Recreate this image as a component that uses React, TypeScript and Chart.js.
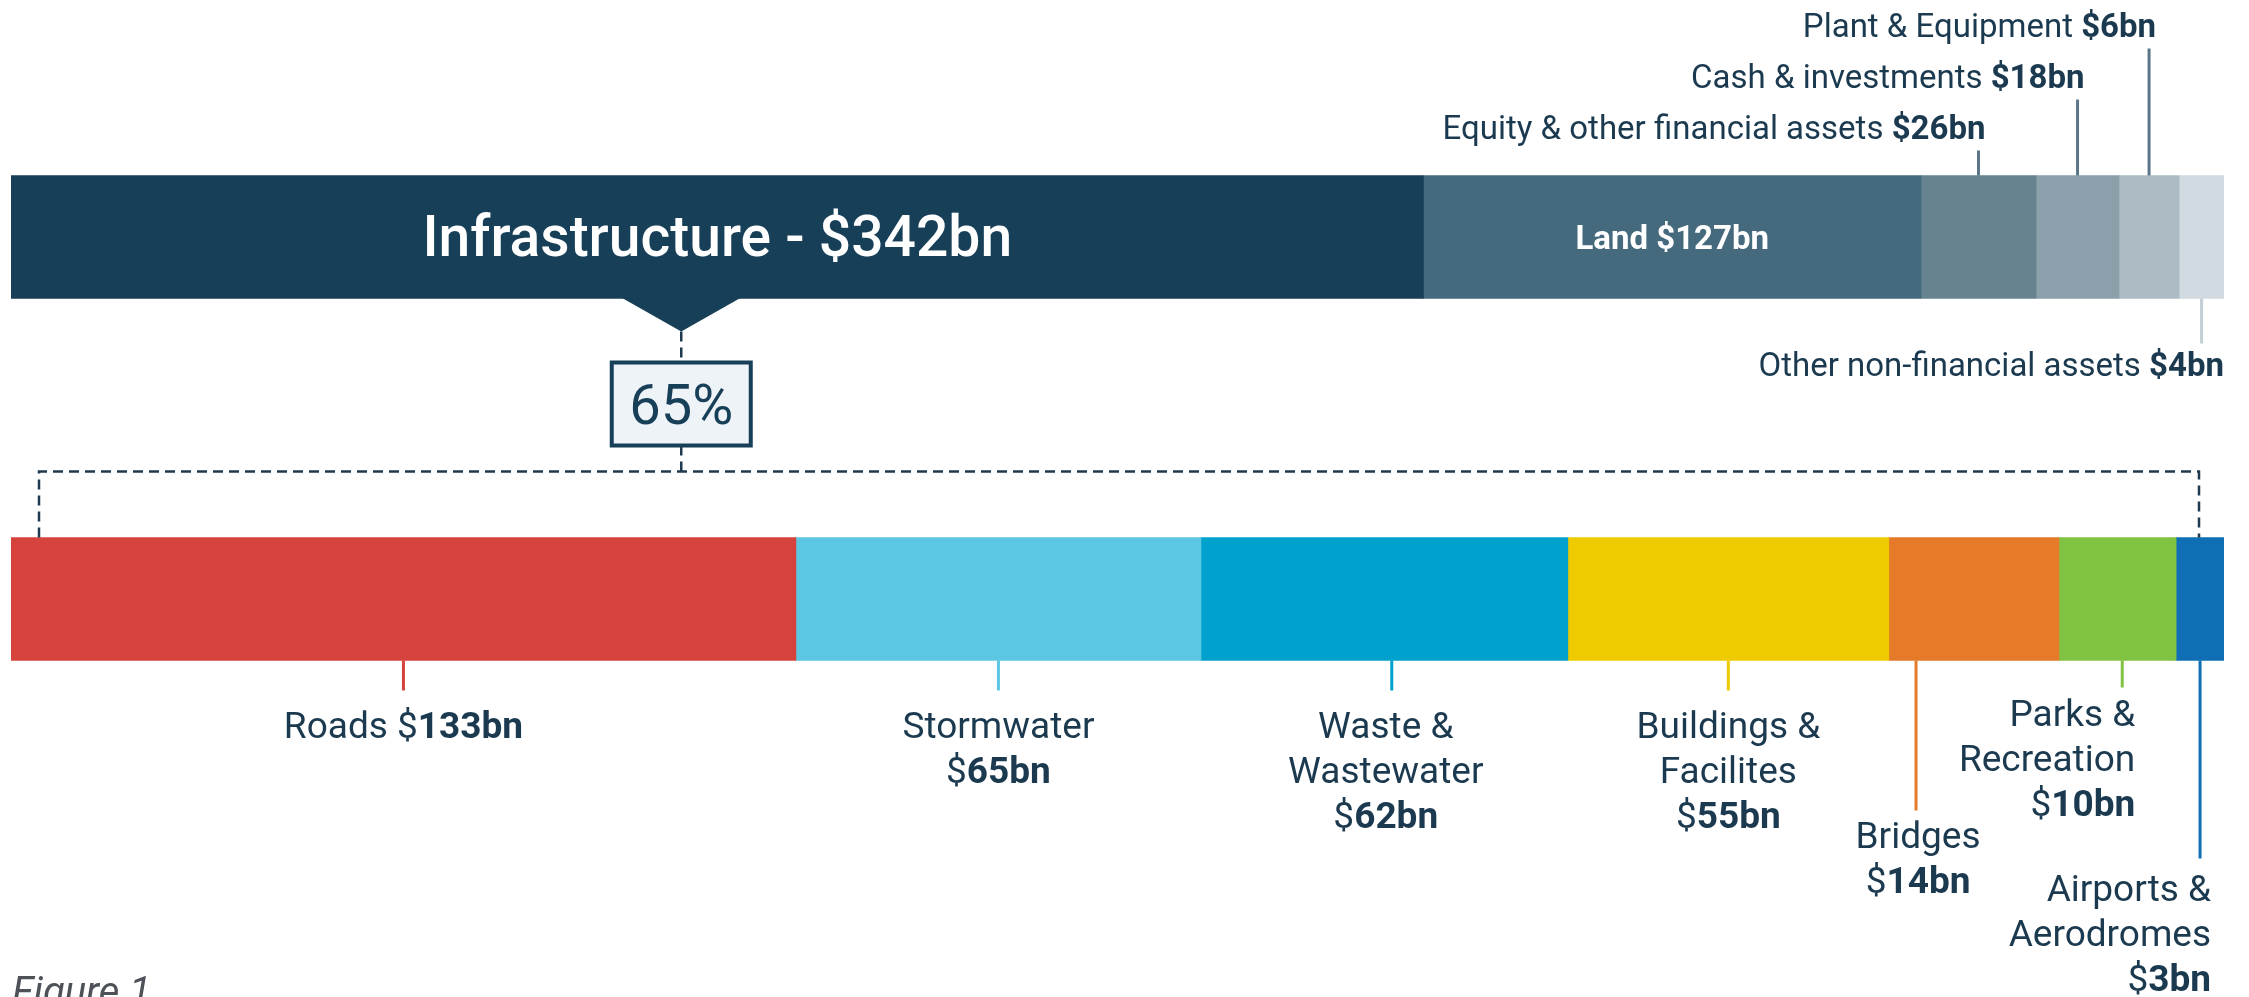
import React, { useEffect, useRef } from "react";
import { Chart, registerables } from "chart.js";

Chart.register(...registerables);

// ---- Data -------------------------------------------------------------
const rowLabels = ["Total assets", "Infrastructure"];

// Total assets breakdown ($bn, as labelled)
const assetCategories = [
  "Infrastructure",
  "Land",
  "Equity & other financial assets",
  "Cash & investments",
  "Plant & Equipment",
  "Other non-financial assets",
];
const assetValues = [342, 127, 26, 18, 6, 4];
// Segment lengths as drawn in the figure (the figure is not to scale for small items)
const assetDrawn = [333.7, 117.5, 27.2, 19.6, 14.2, 10.6];
const assetColors = ["#173f57", "#45697d", "#66838f", "#8ba0ab", "#adbcc4", "#d0dae0"];

// Infrastructure breakdown ($bn, as labelled)
const infraCategories = [
  "Roads",
  "Stormwater",
  "Waste & Wastewater",
  "Buildings & Facilites",
  "Bridges",
  "Parks & Recreation",
  "Airports & Aerodromes",
];
const infraValues = [133, 65, 62, 55, 14, 10, 3];
const infraDrawn = [121.3, 62.6, 56.7, 49.6, 26.3, 18.1, 7.4];
const infraLabelLines = [
  ["Roads"],
  ["Stormwater"],
  ["Waste &", "Wastewater"],
  ["Buildings &", "Facilites"],
  ["Bridges"],
  ["Parks &", "Recreation"],
  ["Airports &", "Aerodromes"],
];
const infraColors = ["#d6433c", "#5bc7e3", "#00a1cc", "#edcb00", "#e57a28", "#80c342", "#0f6eb4"];

const figureCaption = "Figure 1";

// ---- Styles -----------------------------------------------------------
const NAVY = "#1b3a50";
const FONT_FAMILY = 'Roboto, "Noto Sans", "Liberation Sans", sans-serif';
const font = (size: number, weight = "400", style = "normal") =>
  `${style} ${weight} ${size}px ${FONT_FAMILY}`;

// callout styling for top bar small segments (index into assets)
const topCallouts: Record<number, { tier?: number; below?: boolean }> = {
  2: { tier: 0 },
  3: { tier: 1 },
  4: { tier: 2 },
  5: { below: true },
};
// callout styling for bottom bar segments
const bottomCallouts = [
  { leader: 30, anchor: 0.5, align: "center", dx: 0, first: 77, inline: true },
  { leader: 30, anchor: 0.5, align: "center", dx: 0, first: 77 },
  { leader: 30, anchor: 0.52, align: "center", dx: -6, first: 77 },
  { leader: 30, anchor: 0.5, align: "center", dx: 0, first: 77 },
  { leader: 150, anchor: 0.16, align: "center", dx: 2, first: 187 },
  { leader: 27, anchor: 0.54, align: "right", dx: 13, first: 65 },
  { leader: 198, anchor: 0.5, align: "right", dx: 11, first: 240 },
];

type Part = { text: string; bold?: boolean };

function drawRich(
  ctx: CanvasRenderingContext2D,
  parts: Part[],
  x: number,
  y: number,
  align: string,
  size: number,
  color: string
) {
  const widths = parts.map((p) => {
    ctx.font = font(size, p.bold ? "700" : "400");
    return ctx.measureText(p.text).width;
  });
  const total = widths.reduce((a, b) => a + b, 0);
  let cx = align === "center" ? x - total / 2 : align === "right" ? x - total : x;
  ctx.textAlign = "left";
  ctx.textBaseline = "alphabetic";
  ctx.fillStyle = color;
  parts.forEach((p, i) => {
    ctx.font = font(size, p.bold ? "700" : "400");
    ctx.fillText(p.text, cx, y);
    cx += widths[i];
  });
}

function seg(chart: any, datasetIndex: number, row: number) {
  const el = chart.getDatasetMeta(datasetIndex).data[row];
  const p = el.getProps(["x", "base", "y", "height"], true);
  return {
    left: Math.min(p.x, p.base),
    right: Math.max(p.x, p.base),
    top: p.y - p.height / 2,
    bottom: p.y + p.height / 2,
    cy: p.y,
  };
}

const sum = (a: number[]) => a.reduce((s, v) => s + v, 0);

const annotationPlugin = {
  id: "figureAnnotations",
  afterDatasetsDraw(chart: any) {
    const ctx: CanvasRenderingContext2D = chart.ctx;
    ctx.save();

    // --- Top bar labels ---
    const infra = seg(chart, 0, 0);
    ctx.fillStyle = "#ffffff";
    ctx.font = font(57, "500");
    ctx.textAlign = "center";
    ctx.textBaseline = "alphabetic";
    ctx.fillText(
      `${assetCategories[0]} - $${assetValues[0]}bn`,
      (infra.left + infra.right) / 2,
      infra.cy + 19
    );

    const land = seg(chart, 1, 0);
    ctx.font = font(33, "700");
    ctx.fillText(`${assetCategories[1]} $${assetValues[1]}bn`, (land.left + land.right) / 2, land.cy + 12);

    // small segment callouts
    Object.keys(topCallouts).forEach((k) => {
      const i = Number(k);
      const cfg = topCallouts[i];
      const s = seg(chart, i, 0);
      const lx = (s.left + s.right) / 2;
      const parts: Part[] = [
        { text: `${assetCategories[i]} ` },
        { text: `$${assetValues[i]}bn`, bold: true },
      ];
      ctx.lineWidth = 3;
      if (cfg.below) {
        ctx.strokeStyle = "#c3ced5";
        ctx.beginPath();
        ctx.moveTo(lx, s.bottom);
        ctx.lineTo(lx, s.bottom + 45);
        ctx.stroke();
        drawRich(ctx, parts, s.right, s.bottom + 77, "right", 33, NAVY);
      } else {
        const baseline = s.top - 37 - (cfg.tier || 0) * 51;
        ctx.strokeStyle = "#5b7686";
        ctx.beginPath();
        ctx.moveTo(lx, baseline + 12);
        ctx.lineTo(lx, s.top);
        ctx.stroke();
        drawRich(ctx, parts, lx + 7, baseline, "right", 33, NAVY);
      }
    });

    // --- Pointer, share box and bracket ---
    const apexX = infra.left + (infra.right - infra.left) * 0.4745;
    const apexY = infra.bottom + 33;
    ctx.fillStyle = assetColors[0];
    ctx.beginPath();
    ctx.moveTo(apexX - 60, infra.bottom - 1);
    ctx.lineTo(apexX + 60, infra.bottom - 1);
    ctx.lineTo(apexX, apexY);
    ctx.closePath();
    ctx.fill();

    const roads = seg(chart, assetCategories.length, 1);
    const lastInfra = seg(chart, assetCategories.length + infraCategories.length - 1, 1);
    const boxW = 139;
    const boxH = 83;
    const boxTop = apexY + 31;
    const bracketY = boxTop + boxH + 26;
    const bx1 = roads.left + 28;
    const bx2 = lastInfra.right - 25;

    ctx.strokeStyle = "#1f3a4e";
    ctx.lineWidth = 2.5;
    ctx.setLineDash([10, 6]);
    ctx.beginPath();
    ctx.moveTo(apexX, apexY);
    ctx.lineTo(apexX, boxTop);
    ctx.moveTo(apexX, boxTop + boxH);
    ctx.lineTo(apexX, bracketY);
    ctx.moveTo(bx1, roads.top);
    ctx.lineTo(bx1, bracketY);
    ctx.lineTo(bx2, bracketY);
    ctx.lineTo(bx2, roads.top);
    ctx.stroke();
    ctx.setLineDash([]);

    ctx.fillStyle = "#eef3f8";
    ctx.fillRect(apexX - boxW / 2, boxTop, boxW, boxH);
    ctx.lineWidth = 4;
    ctx.strokeStyle = "#173f57";
    ctx.strokeRect(apexX - boxW / 2, boxTop, boxW, boxH);
    const share = Math.round((assetValues[0] / sum(assetValues)) * 100);
    ctx.fillStyle = "#173f57";
    ctx.font = font(56, "400");
    ctx.textAlign = "center";
    ctx.textBaseline = "alphabetic";
    ctx.fillText(`${share}%`, apexX, boxTop + boxH / 2 + 20);

    // --- Bottom callouts ---
    infraCategories.forEach((_, i) => {
      const cfg = bottomCallouts[i];
      const s = seg(chart, assetCategories.length + i, 1);
      const lx = s.left + (s.right - s.left) * cfg.anchor;
      ctx.strokeStyle = infraColors[i];
      ctx.lineWidth = 3;
      ctx.beginPath();
      ctx.moveTo(lx, s.bottom);
      ctx.lineTo(lx, s.bottom + cfg.leader);
      ctx.stroke();
      const tx = lx + cfg.dx;
      const valueParts: Part[] = [{ text: "$" }, { text: `${infraValues[i]}bn`, bold: true }];
      const lineH = 45;
      let y = s.bottom + cfg.first;
      if (cfg.inline) {
        drawRich(ctx, [{ text: infraLabelLines[i].join(" ") + " " }, ...valueParts], tx, y, cfg.align, 37, NAVY);
      } else {
        infraLabelLines[i].forEach((line) => {
          drawRich(ctx, [{ text: line }], tx, y, cfg.align, 37, NAVY);
          y += lineH;
        });
        drawRich(ctx, valueParts, tx, y, cfg.align, 37, NAVY);
      }
    });

    // --- Caption ---
    ctx.fillStyle = "#4c5257";
    ctx.font = font(40, "400", "italic");
    ctx.textAlign = "left";
    ctx.textBaseline = "alphabetic";
    ctx.fillText(figureCaption, 12, 1005);

    ctx.restore();
  },
};

export default function App() {
  const ref = useRef<HTMLCanvasElement>(null);

  useEffect(() => {
    const canvas = ref.current;
    if (!canvas) return;
    const datasets: any[] = [
      ...assetCategories.map((name, i) => ({
        label: name,
        data: [assetDrawn[i], null],
        backgroundColor: assetColors[i],
        xAxisID: "xAssets",
        barThickness: 123,
        borderWidth: 0,
      })),
      ...infraCategories.map((name, i) => ({
        label: name,
        data: [null, infraDrawn[i]],
        backgroundColor: infraColors[i],
        xAxisID: "xInfra",
        barThickness: 123,
        borderWidth: 0,
      })),
    ];
    const chart = new Chart(canvas, {
      type: "bar",
      data: { labels: rowLabels, datasets },
      options: {
        indexAxis: "y",
        animation: false,
        responsive: true,
        maintainAspectRatio: false,
        layout: { padding: { left: 11, right: 25, top: 56, bottom: 217 } },
        scales: {
          y: { display: false, stacked: true, grid: { display: false } },
          xAssets: {
            type: "linear",
            axis: "x",
            position: "bottom",
            display: false,
            stacked: true,
            min: 0,
            max: sum(assetDrawn),
          },
          xInfra: {
            type: "linear",
            axis: "x",
            position: "bottom",
            display: false,
            stacked: true,
            min: 0,
            max: sum(infraDrawn),
          },
        },
        plugins: { legend: { display: false }, tooltip: { enabled: false } },
      } as any,
      plugins: [annotationPlugin],
    });
    let alive = true;
    const fonts = (document as any).fonts;
    if (fonts && fonts.load) {
      Promise.all([
        fonts.load(font(36, "400")),
        fonts.load(font(36, "700")),
        fonts.load(font(36, "500")),
        fonts.load(font(36, "400", "italic")),
      ])
        .catch(() => {})
        .then(() => {
          if (alive) chart.draw();
        });
    }
    return () => {
      alive = false;
      chart.destroy();
    };
  }, []);

  return (
    <div
      style={{
        position: "fixed",
        left: 0,
        top: 0,
        width: "2249px",
        height: "997px",
        background: "#ffffff",
      }}
    >
      <canvas ref={ref} />
    </div>
  );
}
